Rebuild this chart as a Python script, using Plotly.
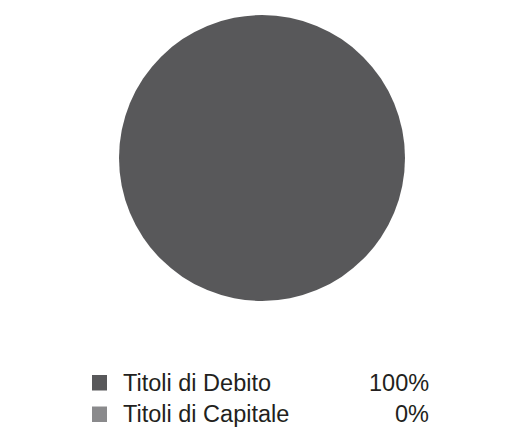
import plotly.graph_objects as go

W, H = 515, 433

labels = ["Titoli di Debito", "Titoli di Capitale"]
values = [100, 0]
colors = ["#58585a", "#8a8a8c"]

fig = go.Figure(go.Pie(
    labels=labels,
    values=values,
    marker=dict(colors=colors, line=dict(width=0)),
    textinfo="none",
    hoverinfo="label+percent",
    sort=False,
    direction="clockwise",
    showlegend=False,
    domain=dict(x=[119 / W, 405 / W], y=[1 - 301 / H, 1 - 15 / H]),
))

# custom legend with value column
total = sum(values)
row_y = [382.5, 414]
shapes = []
annotations = []
font = dict(family="Liberation Sans", size=23.5, color="#231f20")
for lab, val, col, yy in zip(labels, values, colors, row_y):
    shapes.append(dict(
        type="rect", xref="paper", yref="paper",
        x0=92 / W, x1=107 / W, y0=1 - (yy + 8) / H, y1=1 - (yy - 7.5) / H,
        fillcolor=col, line=dict(width=0),
    ))
    annotations.append(dict(
        x=121 / W, y=1 - yy / H, xref="paper", yref="paper",
        text=lab, showarrow=False, xanchor="left", yanchor="middle",
        font=font,
    ))
    annotations.append(dict(
        x=431 / W, y=1 - yy / H, xref="paper", yref="paper",
        text=f"{round(val / total * 100)}%", showarrow=False,
        xanchor="right", yanchor="middle",
        font=font,
    ))

fig.update_layout(
    width=W, height=H,
    margin=dict(l=0, r=0, t=0, b=0),
    paper_bgcolor="white",
    plot_bgcolor="white",
    shapes=shapes,
    annotations=annotations,
)

fig.write_html("out.html")
